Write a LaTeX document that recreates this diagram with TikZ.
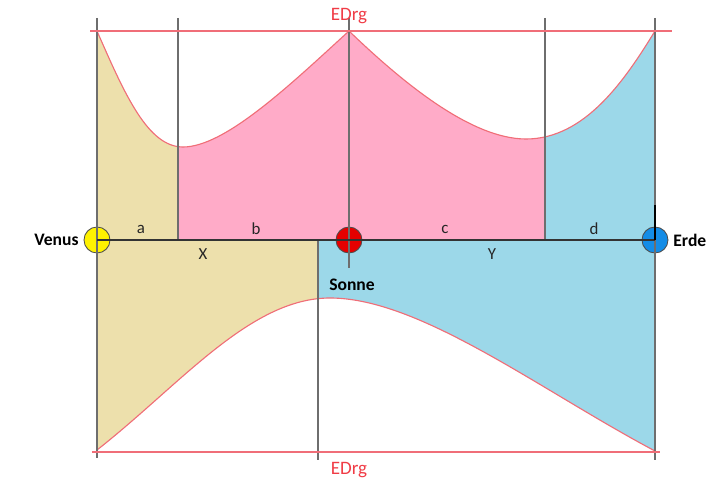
\documentclass[tikz,border=0pt]{standalone}
\usepackage{fontspec}
\setmainfont{Carlito}
\usepackage{tikz}
\usetikzlibrary{positioning,calc}

\definecolor{tanfill}{RGB}{237,224,172}
\definecolor{pinkfill}{RGB}{255,171,200}
\definecolor{bluefill}{RGB}{156,216,233}
\definecolor{curvered}{RGB}{240,110,120}
\definecolor{edrgred}{RGB}{240,60,70}
\definecolor{gridgray}{RGB}{110,110,110}
\definecolor{erdeblue}{RGB}{20,140,230}

\newcommand{\topcurve}{(97,31) .. controls (125,95) and (148,147) .. (183,147)
  .. controls (225,147) and (290,85) .. (349,31)
  .. controls (400,80) and (470,139) .. (526,139)
  .. controls (585,139) and (625,80) .. (655,31)}
\newcommand{\botcurve}{(97,450) .. controls (180,385) and (250,298) .. (330,298)
  .. controls (420,298) and (540,390) .. (655,451)}

\begin{document}
\begin{tikzpicture}[x=0.025cm, y=-0.025cm,
  gridline/.style={draw=gridgray, line width=0.9pt},
  redline/.style={draw=curvered, line width=0.8pt},
  planet/.style={circle, draw=black!70, line width=0.6pt, minimum size=6.5mm, inner sep=0pt},
  segl/.style={font=\fontsize{12}{14}\selectfont, text=black!85},
  namel/.style={font=\bfseries\fontsize{12.5}{15}\selectfont},
  edrgl/.style={font=\fontsize{13.5}{16}\selectfont, text=edrgred}
]
\useasboundingbox (0,0) rectangle (713,486);

% upper fills
\begin{scope}
  \clip (97,0) rectangle (178,240);
  \fill[tanfill] (97,240) -- \topcurve -- (655,240) -- cycle;
\end{scope}
\begin{scope}
  \clip (178,0) rectangle (545,240);
  \fill[pinkfill] (97,240) -- \topcurve -- (655,240) -- cycle;
\end{scope}
\begin{scope}
  \clip (545,0) rectangle (655,240);
  \fill[bluefill] (97,240) -- \topcurve -- (655,240) -- cycle;
\end{scope}
% lower fills
\begin{scope}
  \clip (97,240) rectangle (318,460);
  \fill[tanfill] (97,240) -- \botcurve -- (655,240) -- cycle;
\end{scope}
\begin{scope}
  \clip (318,240) rectangle (655,460);
  \fill[bluefill] (97,240) -- \botcurve -- (655,240) -- cycle;
\end{scope}

% curves
\draw[redline] \topcurve;
\draw[redline] \botcurve;

% planets
\node[planet, fill=yellow] (venus) at (97,240) {};
\node[planet, fill=red!90!black] (sonne) at (349,240) {};
\node[planet, fill=erdeblue] (erde) at (655,240) {};

\node[namel, left=0pt of venus] (venusl) {Venus};
\node[namel, right=0pt of erde] (erdel) {Erde};
\node[namel] (sonnel) at (352,285) {Sonne};

% grid lines
\coordinate (v0) at (97,18);   \coordinate (v1) at (97,458);
\coordinate (x0) at (178,18);  \coordinate (x1) at (178,240);
\coordinate (s0) at (349,18);  \coordinate (s1) at (349,268);
\coordinate (y0) at (545,18);  \coordinate (y1) at (545,240);
\coordinate (e0) at (655,18);  \coordinate (e1) at (655,460);
\coordinate (m0) at (318,240); \coordinate (m1) at (318,460);
\coordinate (et) at (655,205);
\draw[gridline] (v0) -- (v1);
\draw[gridline] (x0) -- (x1);
\draw[gridline] (s0) -- (s1);
\draw[gridline] (y0) -- (y1);
\draw[gridline] (e0) -- (e1);
\draw[gridline] (m0) -- (m1);
\draw[draw=black!80, line width=1pt] (venus.center) -- (erde.center);
\draw[black, line width=1.2pt] (et) -- (erde.center);

% EDrg lines
\coordinate (t0) at (90,31);  \coordinate (t1) at (672,31);
\coordinate (b0) at (92,452); \coordinate (b1) at (660,452);
\draw[redline] (t0) -- (t1);
\draw[redline] (b0) -- (b1);
\node[edrgl] (edrgtop) at (349,16) {EDrg};
\node[edrgl] (edrgbot) at (349,470) {EDrg};

% segment labels
\node[segl] (la) at (141,229) {a};
\node[segl] (lb) at (256,229) {b};
\node[segl] (lc) at (445,229) {c};
\node[segl] (ld) at (594,229) {d};
\node[segl] (lx) at (203,254) {X};
\node[segl] (ly) at (492,254) {Y};

\end{tikzpicture}
\end{document}
